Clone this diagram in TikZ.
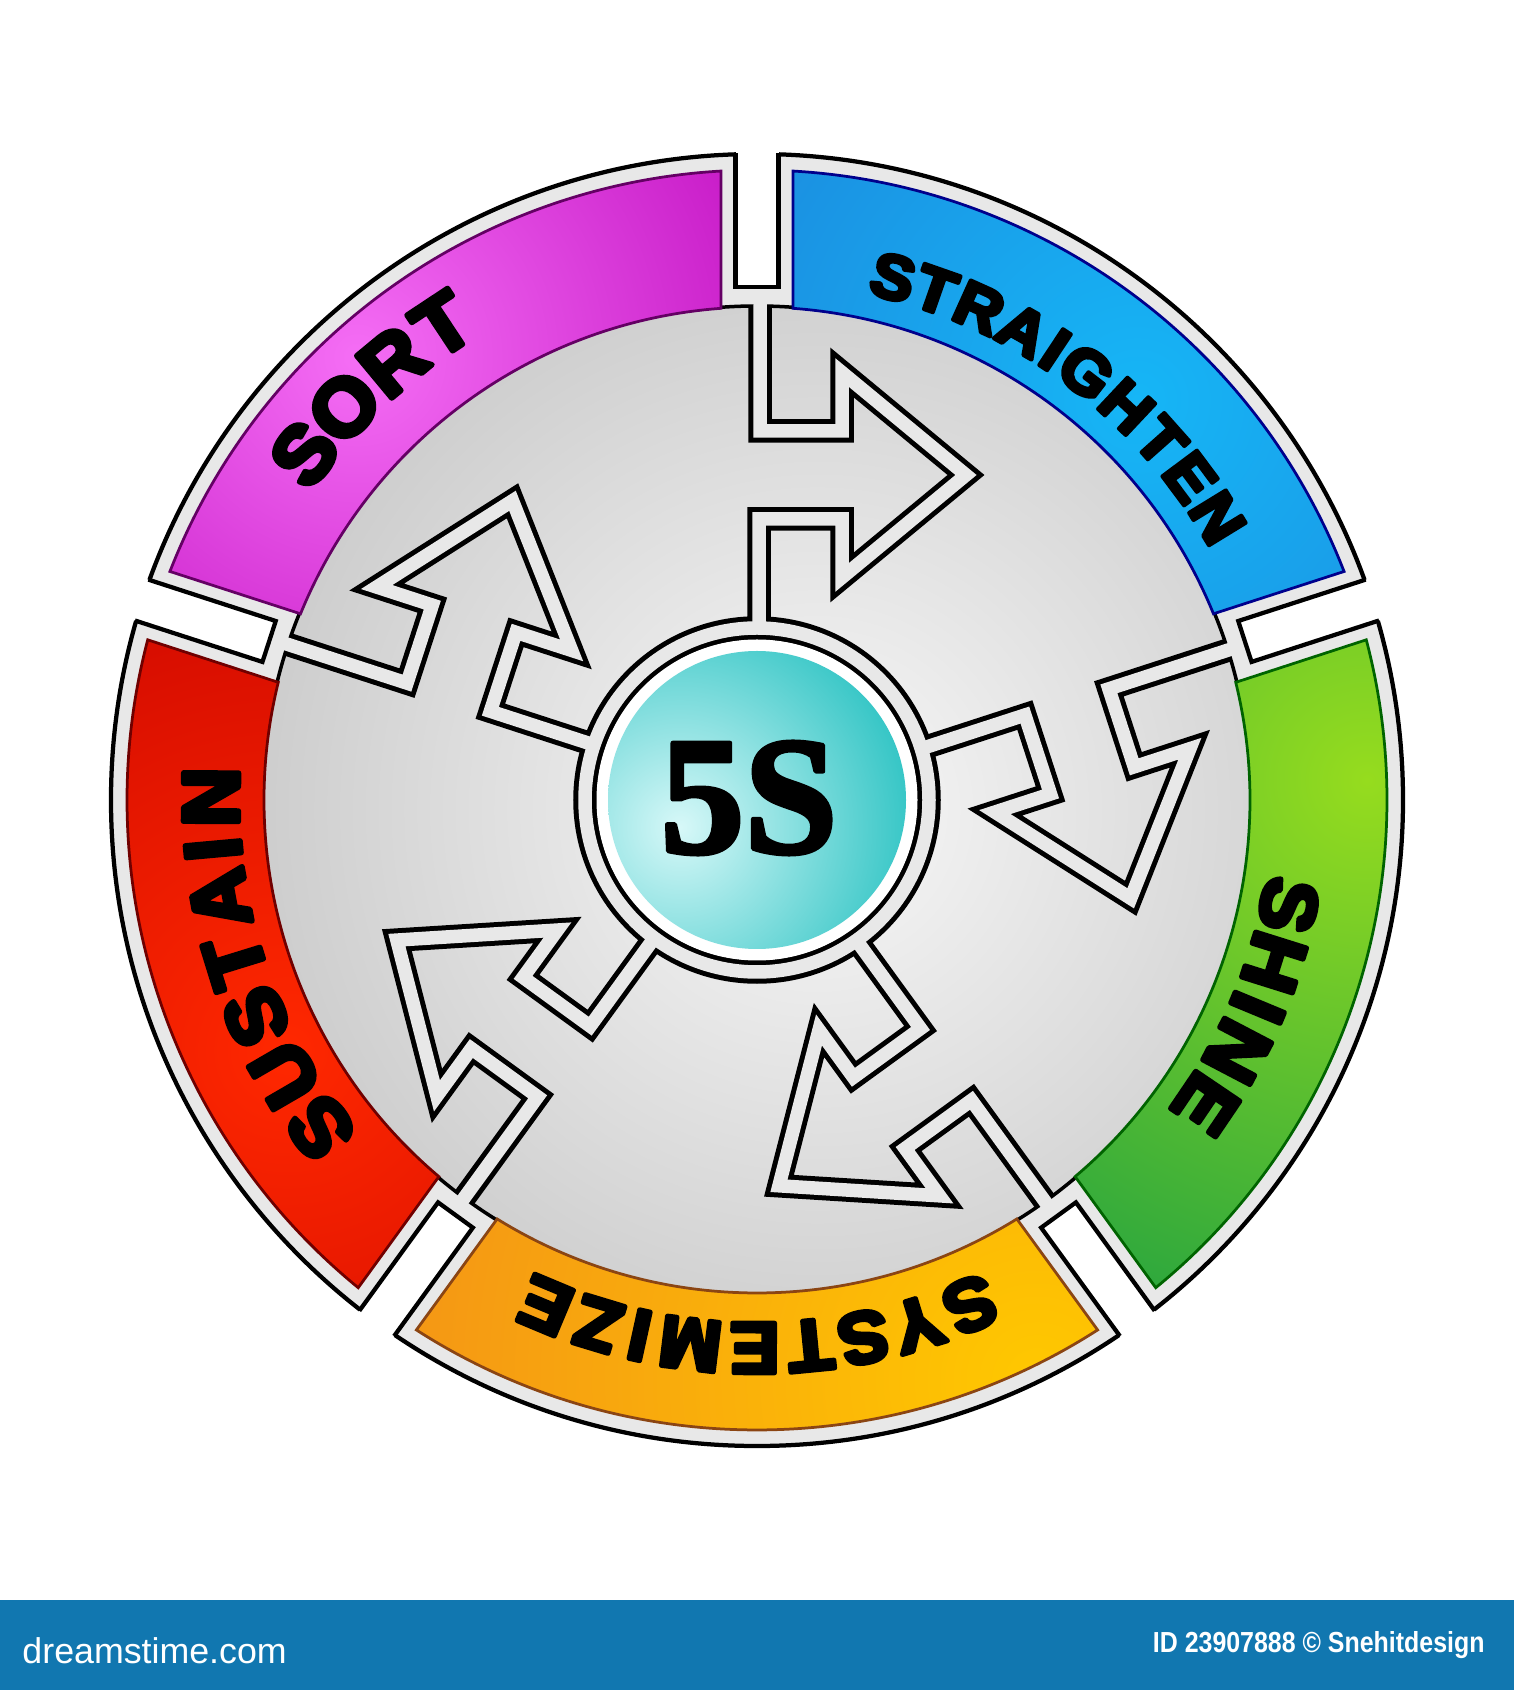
\documentclass[tikz,border=0pt]{standalone}
\usepackage{fontspec}
\setmainfont{Liberation Sans}
\newfontfamily\blk{Liberation Sans}
\newfontfamily\serifb{Liberation Serif}
\definecolor{band}{RGB}{232,232,232}
\definecolor{barblue}{RGB}{17,119,176}
\definecolor{sortL}{RGB}{245,110,245}
\definecolor{sortD}{RGB}{185,0,185}
\definecolor{sortO}{RGB}{100,0,100}
\definecolor{strL}{RGB}{22,182,246}
\definecolor{strD}{RGB}{30,120,212}
\definecolor{strO}{RGB}{0,0,140}
\definecolor{shiL}{RGB}{150,220,30}
\definecolor{shiD}{RGB}{30,160,66}
\definecolor{shiO}{RGB}{0,100,0}
\definecolor{sysL}{RGB}{255,200,0}
\definecolor{sysD}{RGB}{242,138,26}
\definecolor{sysO}{RGB}{139,69,19}
\definecolor{susL}{RGB}{255,40,0}
\definecolor{susD}{RGB}{195,0,0}
\definecolor{susO}{RGB}{112,0,0}
\definecolor{tealL}{RGB}{215,248,248}
\definecolor{tealD}{RGB}{22,188,188}
\pgfdeclareradialshading{tealsh}{\pgfpoint{0bp}{0bp}}{color(0bp)=(tealL); color(21bp)=(tealD); color(50bp)=(tealD)}
\newcommand\segpath[2]{({#1+4.19}:493) -- ({#1+3.27}:630) arc[start angle={#1+3.27}, end angle={#2-3.27}, radius=630] -- ({#2-4.19}:493) arc[start angle={#2-4.19}, end angle={#1+4.19}, radius=493] -- cycle}
\newcommand\arrowpath[1]{(3,#1) -- (3,369) -- (85,369) -- (85,427.5) -- (209,325) -- (85,222.5) -- (85,281) -- (2,281) -- (2,172)}
\newcommand\wf[1]{\blk\bfseries\fontsize{#1}{#1}\selectfont}
% heavier strokes: fill and stroke the glyph outlines
\newcommand\heavy[2]{\special{pdf:literal direct 2 Tr #1 w 1 j 0 g 0 G}#2\special{pdf:literal direct 0 Tr}}
\tikzset{
  ltr/.style={inner sep=0pt, outer sep=0pt, text=black, xscale=1.03},
  blackpass/.style={draw=black, line width=9.4pt, line join=miter},
  lightpass/.style={draw=band, line width=5.4pt, line join=miter},
  rim/.style={draw=black, line width=1.7pt},
}
\begin{document}
\begin{tikzpicture}[x=0.4pt,y=0.4pt]
\fill[white] (-757,-890) rectangle (757,800);
\useasboundingbox (-757,-890) rectangle (757,800);
% slotted disk
\filldraw[fill=band, rim] (0,0) circle (646);
\foreach \p in {90,18,-54,-126,162}{
  \begin{scope}[rotate=\p]
    \fill[white] (513,-21.5) rectangle (665,21.5);
    \draw[rim] (647,-21.5) -- (513,-21.5) -- (513,21.5) -- (647,21.5);
  \end{scope}}
% sphere
\begin{scope}
  \clip (0,0) circle (494);
  \shade[inner color=gray!5, outer color=gray!66] (60,-10) circle (1000);
\end{scope}
\draw[black, line width=1.4pt] (0,0) circle (494);
% coloured segments
\foreach \a/\b/\L/\D/\O/\cx/\cy/\rr in {90/162/sortL/sortD/sortO/-400/443/560, 18/90/strL/strD/strO/380/400/700, -54/18/shiL/shiD/shiO/610/20/640, 234/306/sysL/sysD/sysO/280/-580/800, 162/234/susL/susD/susO/-470/-250/650}{
  \begin{scope}
    \clip \segpath{\a}{\b};
    \shade[inner color=\L, outer color=\D] (\cx,\cy) circle (\rr);
  \end{scope}
  \draw[\O, line width=1.1pt] \segpath{\a}{\b};
}
% words
\foreach \ch/\a [count=\i] in {S/142.6,O/136.4,R/129.7,T/123.5}
  \node[rotate=\a-90, ltr, font=\wf{32pt}] (sort\i) at (\a:570) {\heavy{2.1}{\ch}};
\foreach \ch/\a [count=\i] in {S/75.4,T/70.7,R/65.7,A/60.45,I/56.5,G/52.4,H/46.8,T/41.6,E/36.7,N/31.5}
  \node[rotate=\a-90, ltr, font=\wf{25pt}] (str\i) at (\a:540) {\heavy{1.6}{\ch}};
\foreach \ch/\a [count=\i] in {S/-11.2,H/-17.45,I/-22.54,N/-27.63,E/-34.1}
  \node[rotate=\a-90, ltr, font=\wf{31pt}] (shi\i) at (\a:542) {\heavy{2.0}{\ch}};
\foreach \ch/\a [count=\i] in {S/-67.1,Y/-72.95,S/-78.79,T/-84.41,E/-90.25,M/-96.98,I/-102.37,Z/-106.86,E/-112.7}
  \node[rotate=\a-90, ltr, font=\wf{29pt}] (sys\i) at (\a:548) {\heavy{1.9}{\ch}};
\foreach \ch/\a [count=\i] in {S/216.9,U/210.16,S/203.4,T/197.17,A/190.42,I/185.18,N/179.7}
  \node[rotate=\a-90, ltr, font=\wf{32pt}] (sus\i) at (\a:546) {\heavy{2.1}{\ch}};
% arrows network
\foreach \r in {0,-72,-144,-216,-288}{
  \draw[blackpass, rotate=\r] \arrowpath{494};
}
\draw[blackpass] (0,0) circle (172);
\foreach \r in {0,-72,-144,-216,-288}{
  \draw[lightpass, rotate=\r] \arrowpath{500};
}
\draw[lightpass] (0,0) circle (172);
% centre
\fill[white] (0,0) circle (160.5);
\begin{scope}
  \clip (0,0) circle (149);
  \shade[shading=tealsh] (-77,-27) circle (330);
\end{scope}
\node[font=\serifb\bfseries\fontsize{67pt}{67pt}\selectfont, inner sep=0pt] (five) at (-8,2) {\heavy{1.8}{5S}};
% bottom bar
\fill[barblue] (-757,-800) rectangle (757,-890);
\node[anchor=west, text=white, font=\fontsize{14.3pt}{15pt}\selectfont, inner sep=0pt] (logo) at (-735,-851) {dreamstime.com};
\node[anchor=east, text=white, font=\bfseries\fontsize{11.6pt}{12pt}\selectfont, xscale=0.86, inner sep=0pt] (credit) at (728,-845) {ID 23907888 © Snehitdesign};
\end{tikzpicture}
\end{document}
